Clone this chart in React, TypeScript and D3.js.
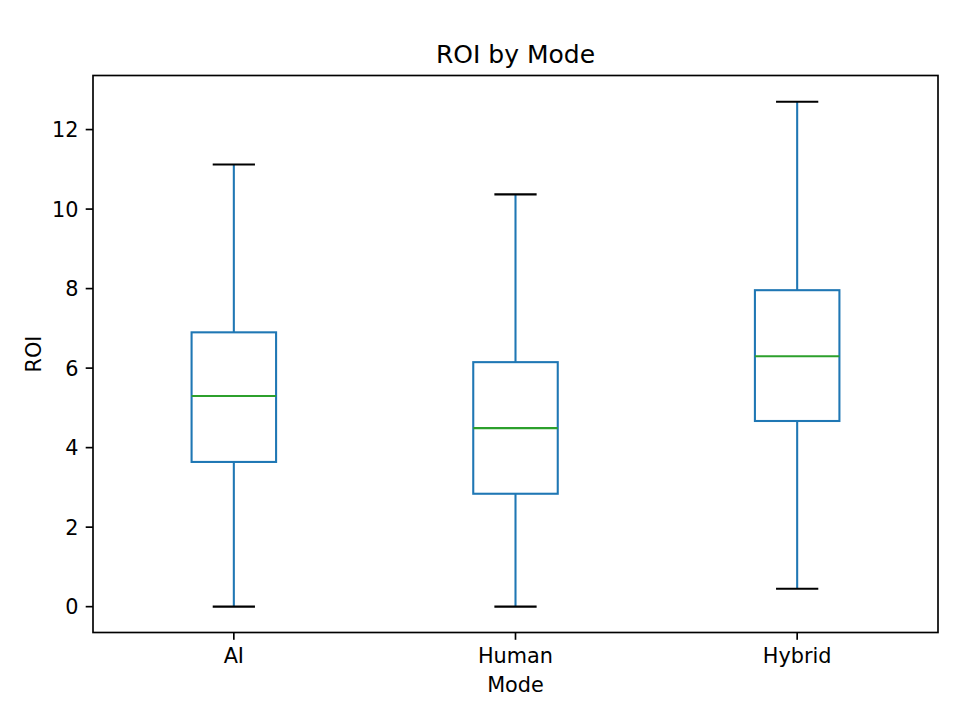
import React from 'react';
import * as d3 from 'd3';

// box statistics
const modes = ['AI', 'Human', 'Hybrid'];
const whiskerLow = [0.0, 0.0, 0.45];
const q1 = [3.64, 2.84, 4.67];
const medians = [5.3, 4.49, 6.3];
const q3 = [6.9, 6.15, 7.96];
const whiskerHigh = [11.12, 10.37, 12.7];
const yTicks = [0, 2, 4, 6, 8, 10, 12];

const W = 960;
const H = 720;
const margin = { left: 93, right: 22, top: 75.5, bottom: 87.5 };
const font = 'DejaVu Sans, sans-serif';
const boxColor = '#1f77b4';
const medColor = '#2ca02c';

export default function App() {
  const x = d3.scaleLinear().domain([0.5, 3.5]).range([margin.left, W - margin.right]);
  const y = d3.scaleLinear().domain([-0.65, 13.36]).range([H - margin.bottom, margin.top]);
  const unit = x(2) - x(1);
  const boxW = unit * 0.3;
  const capW = boxW / 2;
  const plotBottom = H - margin.bottom;
  const plotW = W - margin.left - margin.right;
  const plotH = plotBottom - margin.top;

  return (
    <svg width={W} height={H} style={{ position: 'absolute', left: 0, top: 0, background: '#fff' }}>
      <rect x={0} y={0} width={W} height={H} fill="#fff" />
      {modes.map((m, i) => {
        const cx = x(i + 1);
        return (
          <g key={m}>
            <line x1={cx} x2={cx} y1={y(whiskerLow[i])} y2={y(q1[i])} stroke={boxColor} strokeWidth={2.08} />
            <line x1={cx} x2={cx} y1={y(q3[i])} y2={y(whiskerHigh[i])} stroke={boxColor} strokeWidth={2.08} />
            <line x1={cx - capW / 2} x2={cx + capW / 2} y1={y(whiskerLow[i])} y2={y(whiskerLow[i])} stroke="#000" strokeWidth={2.08} />
            <line x1={cx - capW / 2} x2={cx + capW / 2} y1={y(whiskerHigh[i])} y2={y(whiskerHigh[i])} stroke="#000" strokeWidth={2.08} />
            <rect x={cx - boxW / 2} y={y(q3[i])} width={boxW} height={y(q1[i]) - y(q3[i])} fill="none" stroke={boxColor} strokeWidth={2.08} />
            <line x1={cx - boxW / 2} x2={cx + boxW / 2} y1={y(medians[i])} y2={y(medians[i])} stroke={medColor} strokeWidth={2.08} />
          </g>
        );
      })}
      <rect x={margin.left} y={margin.top} width={plotW} height={plotH} fill="none" stroke="#000" strokeWidth={1.67} />
      {yTicks.map((t) => (
        <g key={t}>
          <line x1={margin.left - 7.3} x2={margin.left} y1={y(t)} y2={y(t)} stroke="#000" strokeWidth={1.67} />
          <text x={margin.left - 14.6} y={y(t)} dy="0.36em" textAnchor="end" fontFamily={font} fontSize={20.8} fill="#000">
            {t}
          </text>
        </g>
      ))}
      {modes.map((m, i) => (
        <g key={m}>
          <line x1={x(i + 1)} x2={x(i + 1)} y1={plotBottom} y2={plotBottom + 7.3} stroke="#000" strokeWidth={1.67} />
          <text x={x(i + 1)} y={663} textAnchor="middle" fontFamily={font} fontSize={20.8} fill="#000">
            {m}
          </text>
        </g>
      ))}
      <text x={margin.left + plotW / 2} y={692} textAnchor="middle" fontFamily={font} fontSize={20.8} fill="#000">
        Mode
      </text>
      <text transform={`translate(41,${margin.top + plotH / 2}) rotate(-90)`} textAnchor="middle" fontFamily={font} fontSize={20.8} fill="#000">
        ROI
      </text>
      <text x={margin.left + plotW / 2} y={62.5} textAnchor="middle" fontFamily={font} fontSize={25} fill="#000">
        ROI by Mode
      </text>
    </svg>
  );
}
